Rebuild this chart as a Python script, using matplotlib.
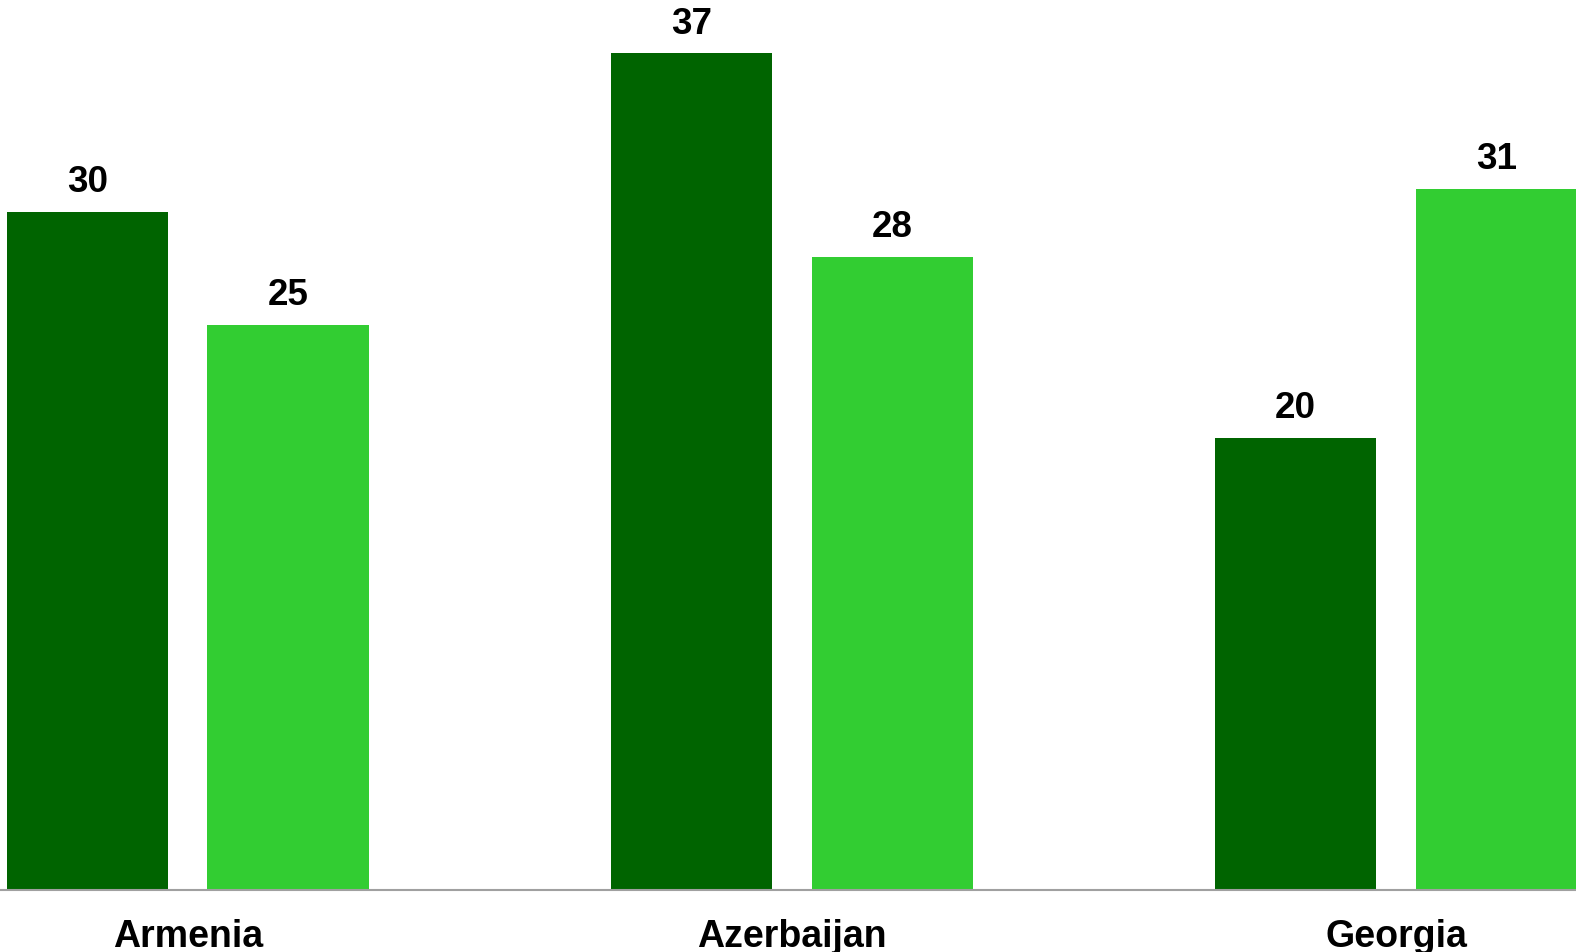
import matplotlib.pyplot as plt
import numpy as np

plt.rcParams['font.family'] = ['Liberation Sans', 'DejaVu Sans']

# --- Data ---
countries = ['Armenia', 'Azerbaijan', 'Georgia']
series_dark = [30, 37, 20]
series_light = [25, 28, 31]

color_dark = '#006400'
color_light = '#32CD32'

x = np.arange(len(countries))
width = 0.267
offset = 0.166

fig = plt.figure(figsize=(15.76, 9.53), dpi=100)
ax = fig.add_axes([0, 0.065, 1, 0.935])

rects1 = ax.bar(x - offset, series_dark, width, color=color_dark)
rects2 = ax.bar(x + offset, series_light, width, color=color_light)

ax.set_xlim(-0.311, 2.298)
ax.set_ylim(0, 39.4)

ax.set_xticks(x)
ax.set_xticklabels(countries, fontsize=27, fontweight='bold')
ax.tick_params(axis='x', length=0, pad=20)
ax.set_yticks([])

for side in ['top', 'right', 'left']:
    ax.spines[side].set_visible(False)
ax.spines['bottom'].set_color('#a0a0a0')
ax.spines['bottom'].set_linewidth(1.5)

def autolabel(rects):
    for rect in rects:
        h = rect.get_height()
        ax.annotate(f'{h:.0f}',
                    xy=(rect.get_x() + rect.get_width() / 2, h),
                    xytext=(0, 9), textcoords='offset points',
                    ha='center', va='bottom', fontsize=26.5, fontweight='bold')

autolabel(rects1)
autolabel(rects2)

plt.savefig('out.png', dpi=100)
